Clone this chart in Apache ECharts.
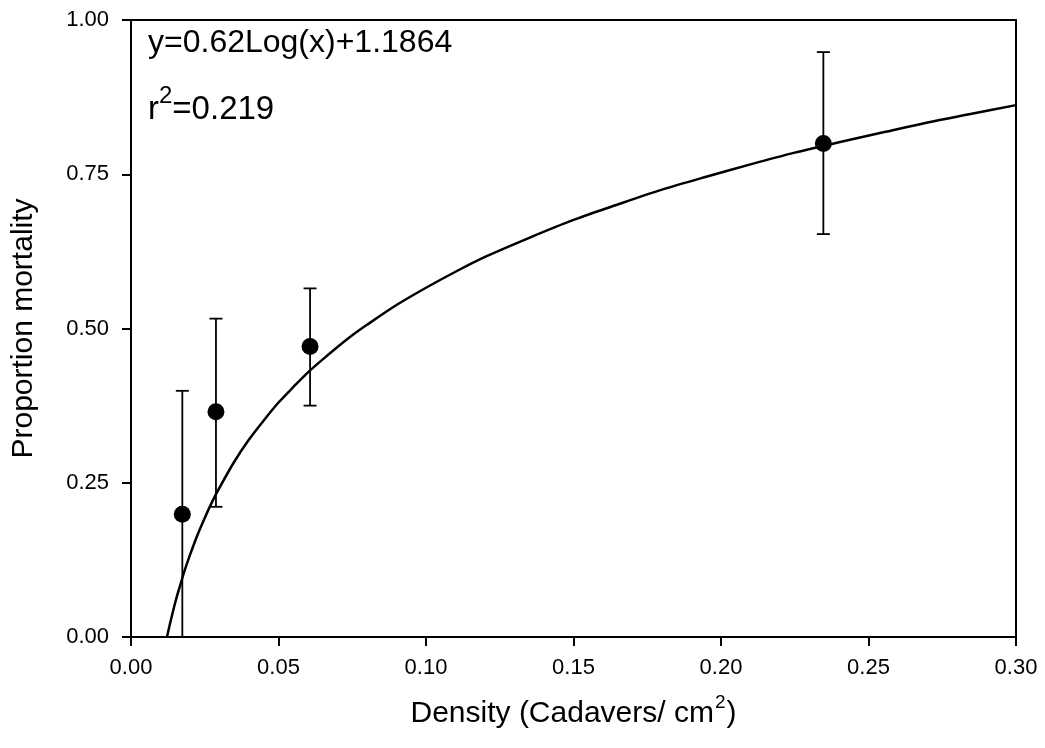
<!DOCTYPE html>
<html>
<head>
<meta charset="utf-8">
<script src="https://cdn.jsdelivr.net/npm/echarts@6/dist/echarts.min.js"></script>
<style>
  html, body { margin: 0; padding: 0; background: #fff; }
  #chart { width: 1045px; height: 748px; }
</style>
</head>
<body>
<div id="chart"></div>
<script>
// observed points (density, proportion mortality) and error bar ends
const densities = [0.0174, 0.0288, 0.0607, 0.2347];
const mortality = [0.199, 0.365, 0.471, 0.800];
const errLow = [0.0, 0.211, 0.375, 0.653];
const errHigh = [0.399, 0.516, 0.565, 0.948];

// fitted curve
const curveX = [0.0122, 0.013, 0.014, 0.015, 0.016, 0.017, 0.018, 0.02, 0.0225, 0.025, 0.0275, 0.03, 0.035, 0.04, 0.045, 0.05, 0.055,
    0.06, 0.065, 0.07, 0.075, 0.08, 0.09, 0.10, 0.11, 0.12, 0.135, 0.15, 0.165, 0.18, 0.195, 0.21, 0.225, 0.24, 0.255, 0.27, 0.285, 0.30];
const curveY = [0.0, 0.017, 0.037, 0.056, 0.073, 0.089, 0.105, 0.133, 0.165, 0.193, 0.219, 0.242, 0.284, 0.320, 0.351, 0.380, 0.405,
    0.429, 0.450, 0.470, 0.489, 0.506, 0.538, 0.566, 0.592, 0.616, 0.647, 0.676, 0.701, 0.725, 0.746, 0.766, 0.785, 0.802, 0.818, 0.834, 0.848, 0.862];

const font = 'Liberation Sans, Arial, sans-serif';

var myChart = echarts.init(document.getElementById('chart'));
myChart.setOption({
    animation: false,
    backgroundColor: '#fff',
    grid: {
        left: 131, right: 29, top: 20, bottom: 111,
        show: true, borderColor: '#000', borderWidth: 2
    },
    xAxis: {
        type: 'value', min: 0, max: 0.30, interval: 0.05,
        name: '{a|Density (Cadavers/ cm}{s|2}{a|)}',
        nameLocation: 'middle', nameGap: 56,
        nameTextStyle: {
            rich: {
                a: { fontFamily: font, fontSize: 30, lineHeight: 36, color: '#000', verticalAlign: 'bottom' },
                s: { fontFamily: font, fontSize: 19, lineHeight: 19, color: '#000', verticalAlign: 'top', padding: [0, 1, 0, 1] }
            }
        },
        axisLine: { lineStyle: { color: '#000', width: 2 } },
        axisTick: { show: true, length: 9, lineStyle: { color: '#000', width: 2 } },
        splitLine: { show: false },
        axisLabel: {
            margin: 20, color: '#000', fontFamily: font, fontSize: 22,
            formatter: v => v.toFixed(2)
        }
    },
    yAxis: {
        type: 'value', min: 0, max: 1, interval: 0.25,
        name: 'Proportion mortality',
        nameLocation: 'middle', nameGap: 92,
        nameTextStyle: { fontFamily: font, fontSize: 30, color: '#000' },
        axisLine: { lineStyle: { color: '#000', width: 2 } },
        axisTick: { show: true, length: 9, lineStyle: { color: '#000', width: 2 } },
        splitLine: { show: false },
        axisLabel: {
            margin: 22, color: '#000', fontFamily: font, fontSize: 22,
            formatter: v => v.toFixed(2)
        }
    },
    graphic: [
        {
            type: 'text', left: 148, top: 27,
            style: { text: 'y=0.62Log(x)+1.1864', fontFamily: font, fontSize: 32, fill: '#000' }
        },
        {
            type: 'text', left: 148, top: 84,
            style: {
                text: '{a|r}{s|2}{a|=0.219}',
                rich: {
                    a: { fontFamily: font, fontSize: 33, lineHeight: 42, fill: '#000', verticalAlign: 'bottom' },
                    s: { fontFamily: font, fontSize: 24, lineHeight: 24, fill: '#000', verticalAlign: 'top' }
                }
            }
        }
    ],
    series: [
        {
            type: 'line',
            data: curveX.map((x, i) => [x, curveY[i]]),
            smooth: 0.3,
            showSymbol: false,
            lineStyle: { color: '#000', width: 2.5, join: 'round' },
            z: 2
        },
        {
            type: 'custom',
            data: densities.map((x, i) => [x, errLow[i], errHigh[i]]),
            renderItem: function (params, api) {
                const lo = api.coord([api.value(0), api.value(1)]);
                const hi = api.coord([api.value(0), api.value(2)]);
                const cap = 6.5;
                const style = { stroke: '#000', lineWidth: 1.8 };
                return {
                    type: 'group',
                    children: [
                        { type: 'line', shape: { x1: lo[0], y1: lo[1], x2: hi[0], y2: hi[1] }, style: style },
                        { type: 'line', shape: { x1: hi[0] - cap, y1: hi[1], x2: hi[0] + cap, y2: hi[1] }, style: style },
                        { type: 'line', shape: { x1: lo[0] - cap, y1: lo[1], x2: lo[0] + cap, y2: lo[1] }, style: style }
                    ]
                };
            },
            z: 3
        },
        {
            type: 'scatter',
            data: densities.map((x, i) => [x, mortality[i]]),
            symbol: 'circle',
            symbolSize: 17,
            itemStyle: { color: '#000', opacity: 1 },
            z: 4
        }
    ]
});
</script>
</body>
</html>
